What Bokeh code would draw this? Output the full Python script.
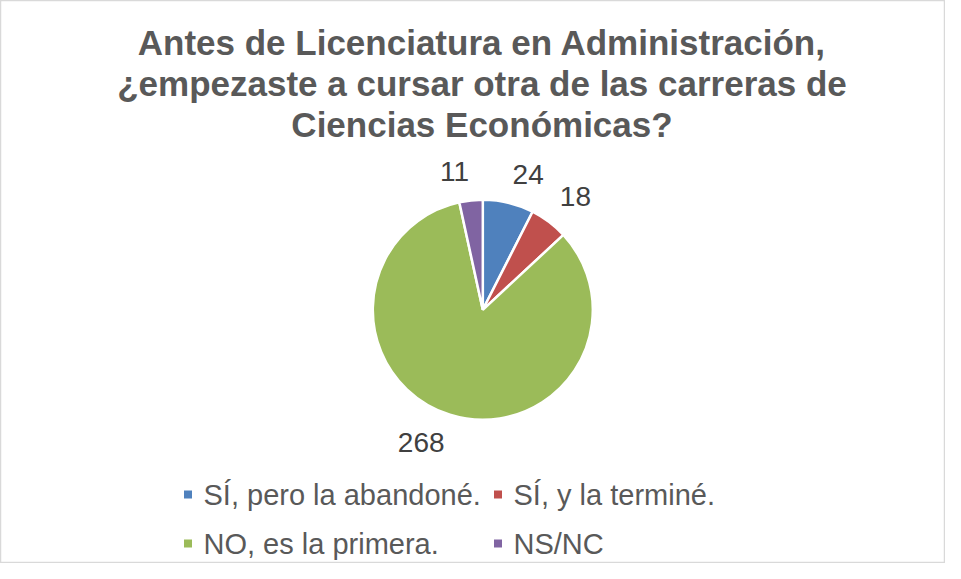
import numpy as np
from bokeh.plotting import figure
from bokeh.models import Range1d, ColumnDataSource
from bokeh.core.properties import value
from bokeh.embed import file_html
from bokeh.resources import INLINE

# ---- data ----
title_lines = [
    "Antes de Licenciatura en Administración,",
    "¿empezaste a cursar otra de las carreras de",
    "Ciencias Económicas?",
]
categories = ["SÍ, pero la abandoné.", "SÍ, y la terminé.", "NO, es la primera.", "NS/NC"]
counts = [24, 18, 268, 11]
colors = ["#4F81BD", "#C0504D", "#9BBB59", "#8064A2"]

# ---- layout (pixel-based data space: x = image x, y = 579 - image y) ----
W, H = 945, 563
FONT = value("Liberation Sans")
p = figure(width=W, height=H, x_range=Range1d(0, W), y_range=Range1d(579 - H, 579),
           output_backend="svg", toolbar_location=None, min_border=0)
p.axis.visible = False
p.grid.visible = False
p.outline_line_color = "#D9D9D9"
p.outline_line_width = 1.5
p.background_fill_color = "white"
p.border_fill_color = "white"

def Y(img_y):
    return 579 - img_y

cx, cy, R = 482.3, Y(309.3), 110

total = sum(counts)
cum = np.cumsum([0] + counts)
start = np.pi / 2 - 2 * np.pi * cum[:-1] / total
end = np.pi / 2 - 2 * np.pi * cum[1:] / total
src = ColumnDataSource(dict(start=start, end=end, color=colors))
p.wedge(x=cx, y=cy, radius=R, start_angle="start", end_angle="end", direction="clock",
        fill_color="color", line_color="white", line_width=2.5, source=src)

# data labels (outside end)
mid = (start + end) / 2
LR = 128
lx = cx + LR * np.cos(mid)
ly = cy + LR * np.sin(mid)
align = ["left" if np.cos(m) >= 0 else "right" for m in mid]
yoff = [-11 if np.sin(m) > 0 else 11 for m in mid]
lsrc = ColumnDataSource(dict(x=lx, y=ly, t=[str(c) for c in counts], a=align, yo=yoff))
p.text(x="x", y="y", text="t", text_align="a", y_offset="yo", text_baseline="middle",
       text_font=FONT, text_font_size="28px", text_color="#404040", source=lsrc)

# title
p.text(x=[481.5] * 3, y=[Y(42), Y(83), Y(123.5)], text=title_lines,
       text_font=FONT, text_font_style="bold", text_font_size="35px",
       text_color="#595959", text_align="center", text_baseline="middle")

# legend (2 columns x 2 rows)
col_x = [187.5, 497.5]
row_y = [Y(494), Y(543)]
sq_x = [col_x[i % 2] for i in range(4)]
sq_y = [row_y[i // 2] for i in range(4)]
p.scatter(x=sq_x, y=sq_y, marker="square", size=8, fill_color=colors, line_color=None)
p.text(x=[x + 15.5 for x in sq_x], y=sq_y, text=categories, text_font=FONT,
       text_font_size="29px", text_color="#595959", text_align="left", text_baseline="middle")

open("out.html", "w").write(file_html(p, INLINE))
